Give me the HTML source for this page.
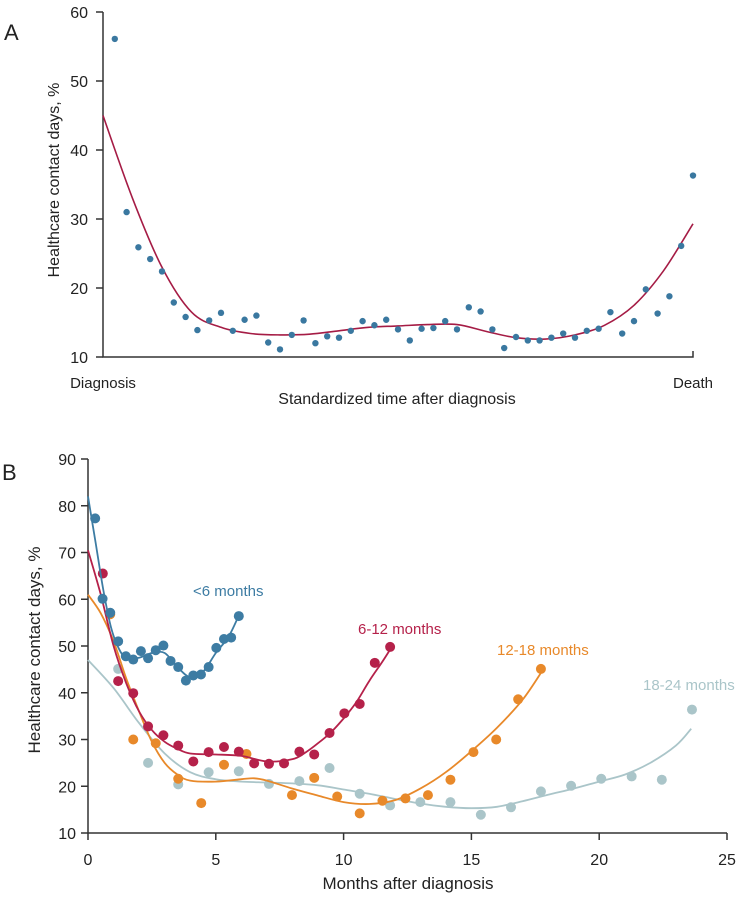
<!DOCTYPE html>
<html><head><meta charset="utf-8"><style>
html,body{margin:0;padding:0;background:#fff}
svg{display:block;font-family:"Liberation Sans",Arial,sans-serif}
</style></head><body>
<svg id="chart" width="750" height="900" viewBox="0 0 750 900" xmlns="http://www.w3.org/2000/svg"></svg>
<script>
// ---------- Panel A data ----------
const aPoints = [56.1,31.0,25.9,24.2,22.4,17.9,15.8,13.9,15.3,16.4,13.8,15.4,16.0,12.1,11.1,13.2,15.3,12.0,13.0,12.8,13.8,15.2,14.6,15.4,14.0,12.4,14.1,14.2,15.2,14.0,17.2,16.6,14.0,11.3,12.9,12.4,12.4,12.8,13.4,12.8,13.8,14.1,16.5,13.4,15.2,19.8,16.3,18.8,26.1,36.3];
const aCurveX = [0,0.05,0.1,0.15,0.2,0.25,0.3,0.35,0.4,0.45,0.5,0.55,0.6,0.65,0.7,0.75,0.8,0.85,0.9,0.95,1.0];
const aCurveY = [45,33,23,16.5,14.3,13.4,13.2,13.3,13.8,14.3,14.5,14.7,14.7,13.7,12.8,12.6,13.2,14.6,17.5,22.5,29.3];
const aYTicks = [10,20,30,40,50,60];

// ---------- Panel B data ----------
const bXTicks = [0,5,10,15,20,25];
const bYTicks = [10,20,30,40,50,60,70,80,90];
const s1X = [0.28,0.57,0.87,1.18,1.48,1.77,2.07,2.35,2.65,2.95,3.23,3.53,3.83,4.12,4.42,4.72,5.02,5.32,5.6,5.9];
const s1Y = [77.3,60.1,57.1,51.0,47.8,47.1,48.9,47.4,49.1,50.1,46.8,45.5,42.6,43.7,43.9,45.5,49.6,51.5,51.8,56.4];
const s1CX = [0,0.3,0.6,0.9,1.2,1.5,2,2.5,3,3.5,4,4.5,5,5.5,5.9];
const s1CY = [82,72,62,54,49.5,47.5,47.5,48.5,48.5,45.5,43.3,44.5,48.5,52,56.5];
const s2X = [0.58,1.18,1.77,2.35,2.95,3.53,4.12,4.72,5.32,5.9,6.5,7.08,7.67,8.27,8.85,9.45,10.03,10.63,11.22,11.82];
const s2Y = [65.5,42.5,39.9,32.8,30.9,28.7,25.3,27.3,28.4,27.4,24.9,24.8,24.9,27.4,26.8,31.4,35.6,37.6,46.4,49.8];
const s2CX = [0,0.5,1,1.5,2,2.5,3,3.5,4,5,6,7,8,8.5,9,9.5,10,10.5,11,11.5,11.85];
const s2CY = [70.5,61,50,42,36,32,29.5,28,27,26.8,26.5,25.3,25.8,27.2,29.2,31.5,34.5,38,42.5,46.5,49.5];
const s3X = [0.87,1.77,2.65,3.53,4.43,5.32,6.2,7.98,8.85,9.75,10.63,11.52,12.42,13.3,14.18,15.08,15.97,16.83,17.72];
const s3Y = [56.8,30.0,29.2,21.6,16.4,24.6,26.9,18.1,21.8,17.8,14.2,16.9,17.4,18.1,21.4,27.3,30.0,38.6,45.1];
const s3CX = [0,0.5,1,1.5,2,2.5,3,3.5,4,5,6,6.5,7,8,9,10,11,12,13,14,15,16,17,17.75];
const s3CY = [61,57,51,43,36,29.5,25,22.5,21.2,21,21.5,21.7,21.2,19.5,18,16.6,16.2,17,19.5,23,27.5,32.5,38.5,44.5];
const s4X = [1.18,2.35,3.53,4.72,5.9,7.08,8.27,9.45,10.63,11.82,13.0,14.18,15.37,16.55,17.72,18.9,20.08,21.27,22.45,23.63];
const s4Y = [45.1,25.0,20.4,23.0,23.2,20.5,21.1,23.9,18.4,15.9,16.6,16.6,13.9,15.5,18.9,20.1,21.6,22.1,21.4,36.4];
const s4CX = [0,1,2,3,4,5,6,7,8,9,10,11,12,13,14,15,16,17,18,19,20,21,22,23,23.6];
const s4CY = [47,41,33.5,27,23,21.5,21,20.8,20.6,20.2,19.3,18.4,17.3,16.3,15.6,15.3,15.6,16.8,18.2,19.5,21,22.5,25,28.7,32.3];
const seriesNames = ["<6 months","6-12 months","12-18 months","18-24 months"];

const NS="http://www.w3.org/2000/svg";
const svg=document.getElementById('chart');
function mk(tag,attrs,parent){const e=document.createElementNS(NS,tag);for(const k in attrs)e.setAttribute(k,attrs[k]);(parent||svg).appendChild(e);return e;}
function txt(s,attrs,parent){const e=mk('text',attrs,parent);e.textContent=s;return e;}
function smooth(pts){if(pts.length<2)return'';let d='M'+pts[0][0].toFixed(1)+','+pts[0][1].toFixed(1);
 for(let i=0;i<pts.length-1;i++){const p0=pts[i-1]||pts[i],p1=pts[i],p2=pts[i+1],p3=pts[i+2]||p2;
 const c1=[p1[0]+(p2[0]-p0[0])/6,p1[1]+(p2[1]-p0[1])/6],c2=[p2[0]-(p3[0]-p1[0])/6,p2[1]-(p3[1]-p1[1])/6];
 d+=' C'+c1[0].toFixed(1)+','+c1[1].toFixed(1)+' '+c2[0].toFixed(1)+','+c2[1].toFixed(1)+' '+p2[0].toFixed(1)+','+p2[1].toFixed(1);}return d;}

// ---------- Panel A ----------
const ax0=103, ax1=693, ayTop=12, ayBot=357;
const axX=f=>ax0+f*(ax1-ax0);
const axY=v=>ayBot-(v-10)/(60-10)*(ayBot-ayTop);
const gA=mk('g',{});


const lblA=txt('A',{x:4,y:40,'font-size':22,fill:'#222'},gA);


const axA=mk('path',{d:`M${ax0},${ayTop} V${ayBot} H${ax1} V${ayBot-6}`,stroke:'#333','stroke-width':1.5,fill:'none'},gA);


aYTicks.forEach(v=>{const y=axY(v);
 const t=mk('line',{x1:ax0-7,x2:ax0,y1:y,y2:y,stroke:'#333','stroke-width':1.5},gA);
 
 
 const l=txt(String(v),{x:ax0-15,y:y+6,'font-size':16,'text-anchor':'end',fill:'#222'},gA);
 
 });
const dg=txt('Diagnosis',{x:ax0,y:388,'font-size':15,'text-anchor':'middle',fill:'#222'},gA);


const dt=txt('Death',{x:ax1,y:388,'font-size':15,'text-anchor':'middle',fill:'#222'},gA);


const axt=txt('Standardized time after diagnosis',{x:397,y:404,'font-size':16,'text-anchor':'middle',fill:'#222'},gA);


const ayt=txt('Healthcare contact days, %',{x:0,y:0,'font-size':16,'text-anchor':'middle',fill:'#222',transform:'translate(59,180) rotate(-90)'},gA);


const aC=mk('path',{d:smooth(aCurveX.map((f,i)=>[axX(f),axY(aCurveY[i])])),stroke:'#a51c45','stroke-width':1.6,fill:'none'},gA);


aPoints.forEach((v,i)=>{const f=(i+1)/aPoints.length;
 const c=mk('circle',{cx:axX(f),cy:axY(v),r:3.2,fill:'#3a78a0'},gA);
 
 });

// ---------- Panel B ----------
const bx0=88, bx1=727, byTop=459, byBot=833;
const bX=v=>bx0+v/25*(bx1-bx0);
const bY=v=>byBot-(v-10)/80*(byBot-byTop);
const gB=mk('g',{});


const lblB=txt('B',{x:2,y:480,'font-size':22,fill:'#222'},gB);


const axB=mk('path',{d:`M${bx0},${byTop} V${byBot} H${bx1}`,stroke:'#333','stroke-width':1.5,fill:'none'},gB);


bYTicks.forEach(v=>{const y=bY(v);
 const t=mk('line',{x1:bx0-7,x2:bx0,y1:y,y2:y,stroke:'#333','stroke-width':1.5},gB);
 
 
 const l=txt(String(v),{x:bx0-12,y:y+6,'font-size':16,'text-anchor':'end',fill:'#222'},gB);
 
 });
bXTicks.forEach(v=>{const x=bX(v);
 const t=mk('line',{x1:x,x2:x,y1:byBot,y2:byBot+7,stroke:'#333','stroke-width':1.5},gB);
 
 
 const l=txt(String(v),{x:x,y:865,'font-size':16,'text-anchor':'middle',fill:'#222'},gB);
 
 });
const bxt=txt('Months after diagnosis',{x:408,y:889,'font-size':17,'text-anchor':'middle',fill:'#222'},gB);


const byt=txt('Healthcare contact days, %',{x:0,y:0,'font-size':17,'text-anchor':'middle',fill:'#222',transform:'translate(40,650) rotate(-90)'},gB);



const sets=[
 {px:s4X,py:s4Y,cx:s4CX,cy:s4CY,col:'#aac5c9',lx:643,ly:690,name:'series-18-24-months'},
 {px:s3X,py:s3Y,cx:s3CX,cy:s3CY,col:'#e8892a',lx:497,ly:655,name:'series-12-18-months'},
 {px:s2X,py:s2Y,cx:s2CX,cy:s2CY,col:'#b5214a',lx:358,ly:634,name:'series-6-12-months'},
 {px:s1X,py:s1Y,cx:s1CX,cy:s1CY,col:'#3d7ca3',lx:193,ly:596,name:'series-under-6-months'}];
const labelIdx=[3,2,1,0];
sets.forEach((s,k)=>{
 const g=mk('g',{},gB);
 
 
 const p=mk('path',{d:smooth(s.cx.map((x,i)=>[bX(x),bY(s.cy[i])])),stroke:s.col,'stroke-width':1.8,fill:'none'},g);
 
 
 s.px.forEach((x,i)=>{const c=mk('circle',{cx:bX(x),cy:bY(s.py[i]),r:5,fill:s.col},g);
  
  });
 const l=txt(seriesNames[labelIdx[k]],{x:s.lx,y:s.ly,'font-size':15,fill:s.col},g);
 
 
});
</script>
</body></html>
